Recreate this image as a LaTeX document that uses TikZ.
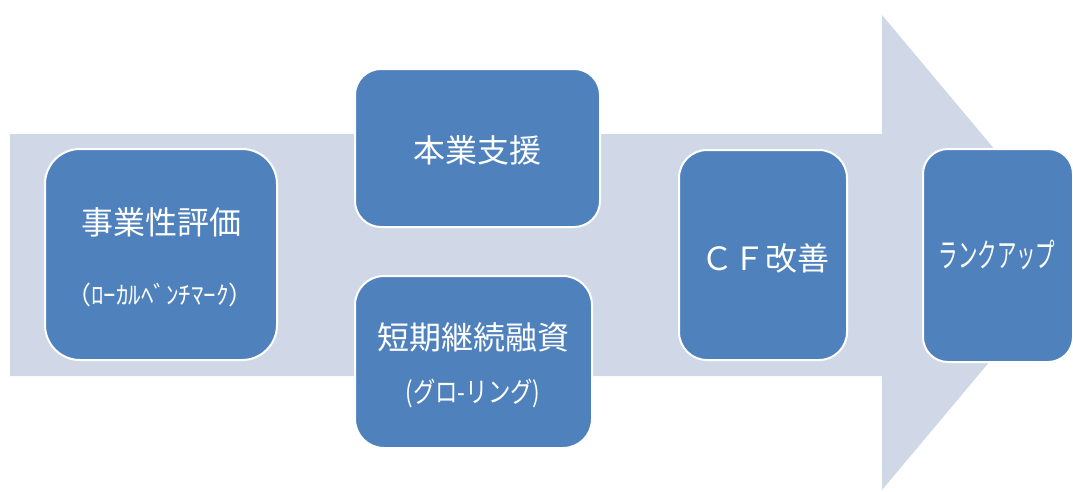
\documentclass[tikz,border=0pt]{standalone}
\usepackage{fontspec}
\setmainfont{Noto Sans CJK JP}
\newfontfamily\narrowjp[FakeStretch=0.59]{Noto Sans CJK JP}
\newfontfamily\semijp[FakeStretch=0.8]{Noto Sans CJK JP}
\definecolor{arrowfill}{RGB}{208,216,232}
\definecolor{boxfill}{RGB}{79,129,189}
\begin{document}
\begin{tikzpicture}[x=1pt,y=-1pt,
  stagebox/.style={fill=boxfill,draw=white,line width=2pt,inner sep=0pt},
  bigtext/.style={text=white,inner sep=0pt,font=\fontsize{32}{38}\selectfont},
  midtext/.style={text=white,inner sep=0pt,font=\semijp\fontsize{28}{32}\selectfont},
  narrowtext/.style={text=white,inner sep=0pt,font=\narrowjp\fontsize{33}{38}\selectfont},
  smalltext/.style={text=white,inner sep=0pt,font=\fontsize{25}{30}\selectfont}]
\useasboundingbox (0,0) rectangle (1073,491);
% big background arrow
\fill[arrowfill] (10,134) -- (882,134) -- (882,15) -- (1081,252.5) -- (882,490) -- (882,376) -- (10,376) -- cycle;
% boxes
\node[stagebox,minimum width=232pt,minimum height=211pt,rounded corners=35pt] (b1) at (161,254.5) {};
\node[stagebox,minimum width=245pt,minimum height=158pt,rounded corners=26pt] (b2) at (477.5,148) {};
\node[stagebox,minimum width=237pt,minimum height=172pt,rounded corners=29pt] (b3) at (473.5,362) {};
\node[stagebox,minimum width=168pt,minimum height=210pt,rounded corners=28pt] (b4) at (763,255) {};
\node[stagebox,minimum width=150pt,minimum height=213pt,rounded corners=25pt] (b5) at (998,255.5) {};
% texts
\node[bigtext] (t1) at (161,222) {事業性評価};
\node[smalltext] (t1s) at (160,295) {（ﾛｰｶﾙﾍﾞﾝﾁﾏｰｸ）};
\node[bigtext] (t2) at (477,150) {本業支援};
\node[bigtext] (t3) at (473,337) {短期継続融資};
\node[midtext] (t3s) at (473,393) {(グロ-リング)};
\node[bigtext] (t4) at (765,258) {ＣＦ改善};
\node[narrowtext] (t5) at (997,255) {ランクアップ};
\end{tikzpicture}
\end{document}
